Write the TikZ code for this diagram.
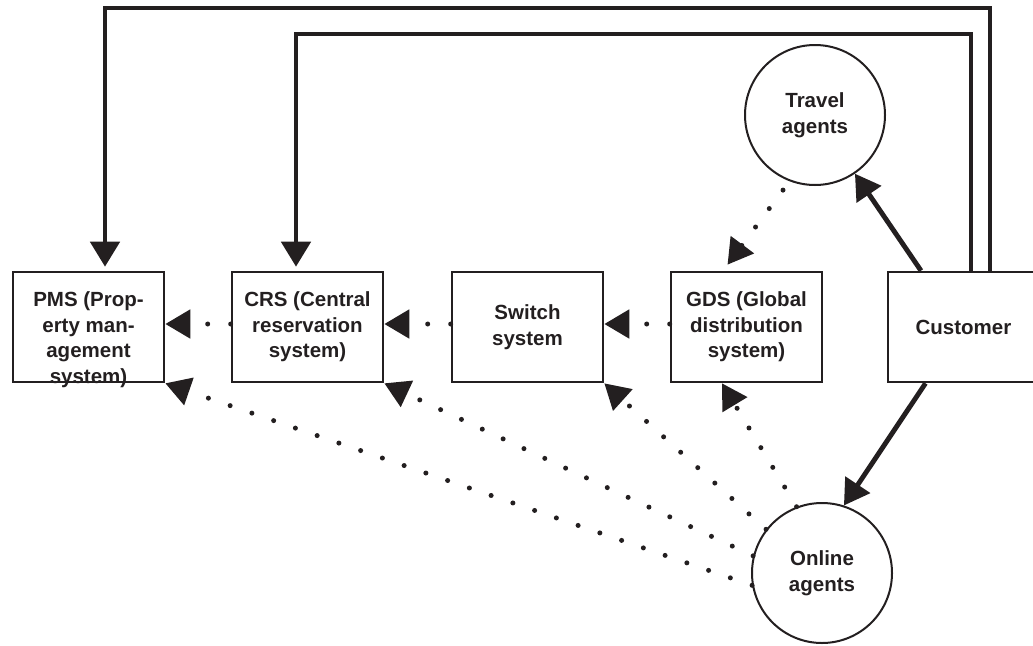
\documentclass[tikz,border=0pt]{standalone}
\usepackage{fontspec}
\setmainfont{Liberation Sans}
\usetikzlibrary{arrows.meta}
\definecolor{ink}{HTML}{231F20}
\begin{document}
\begin{tikzpicture}[x=1pt,y=-1pt,
  font=\fontsize{20.5}{25.5}\selectfont\bfseries,
  box/.style={draw=ink, line width=2.6pt, minimum width=151pt, minimum height=110pt, inner sep=0pt, text=ink, align=center},
  agent/.style={circle, draw=ink, line width=2pt, minimum size=140pt, inner sep=0pt, text=ink, align=center},
  solidarrow/.style={draw=ink, line width=4.9pt, -{Triangle[length=25pt,width=29pt]}},
  dotarrow/.style={draw=ink, line width=5pt, line cap=round, dash pattern=on 0pt off 23pt, -{Triangle[length=25pt,width=28pt]}},
]
\useasboundingbox (0,0) rectangle (1033,645);
\clip (0,0) rectangle (1033,645);

\node[box] (pms) at (88.5,327) {};
\node[text=ink, align=center, inner sep=0pt] (pmstext) at ([yshift=-12.75pt]pms.center) {PMS (Prop-\\erty man-\\agement\\system)};
\node[box] (crs) at (307.5,327) {CRS (Central\\reservation\\system)};
\node[box] (sw) at (527.5,327) {Switch\\system};
\node[box] (gds) at (746.5,327) {GDS (Global\\distribution\\system)};
\node[box] (cust) at (963.5,327) {Customer};
\node[agent] (travel) at (815,115) {Travel\\agents};
\node[agent] (online) at (822,573) {Online\\agents};

\coordinate (oL) at (105,8);
\coordinate (oR) at (990,8);
\coordinate (iL) at (296,34);
\coordinate (iR) at (971,34);

\draw[solidarrow, shorten >=4pt] (cust.north -| oR) -- (oR) -- (oL) -- (pms.north -| oL);
\draw[solidarrow, shorten >=4pt] (cust.north -| iR) -- (iR) -- (iL) -- (crs.north -| iL);
\draw[solidarrow] ([xshift=-42.5pt]cust.north) -- (travel);
\draw[solidarrow] ([xshift=-38pt]cust.south) -- (online.72);

\draw[dotarrow] ([yshift=3pt]crs.west) -- ([yshift=3pt]pms.east);
\draw[dotarrow] ([yshift=3pt]sw.west) -- ([yshift=3pt]crs.east);
\draw[dotarrow] ([yshift=3pt]gds.west) -- ([yshift=3pt]sw.east);
\draw[dotarrow, dash phase=12pt] (travel.249) -- ([xshift=-19pt,yshift=6pt]gds.north);
\draw[dotarrow] (online.111) -- ([xshift=-24.5pt]gds.south);
\draw[dotarrow] (online.142) -- (sw.south east);
\draw[dotarrow] (online.166) -- (crs.south east);
\draw[dotarrow] (online.190) -- (pms.south east);
\end{tikzpicture}
\end{document}
